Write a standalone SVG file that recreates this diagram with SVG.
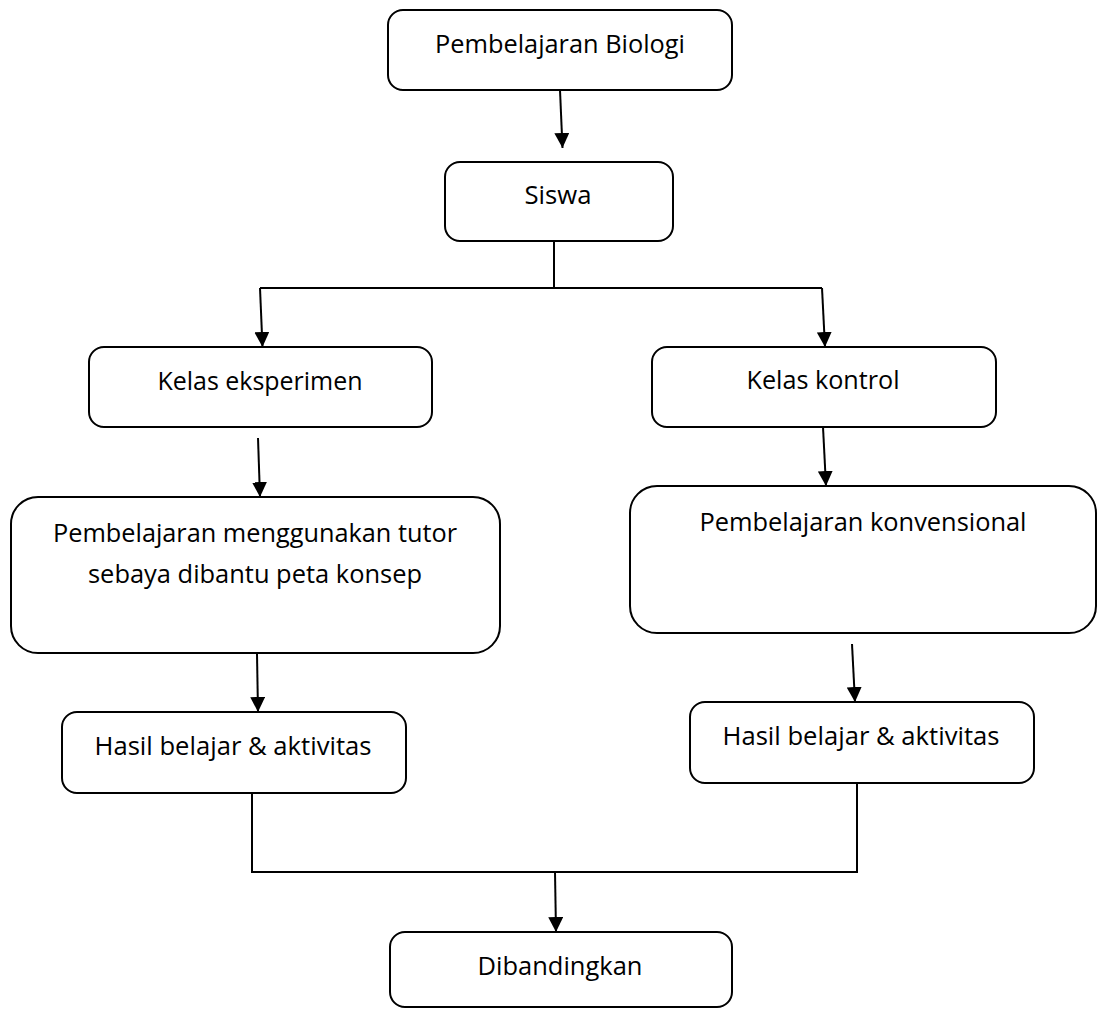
<svg xmlns="http://www.w3.org/2000/svg" width="1097" height="1010" viewBox="0 0 1097 1010">
<style>
.box{fill:#fff;stroke:#000;stroke-width:2}
.t{font-family:"Open Sans","Noto Sans","Liberation Sans",sans-serif;font-size:25px;fill:#000;text-anchor:middle}
.c{fill:none;stroke:#000;stroke-width:2}
</style>
<defs>
<marker id="ah" viewBox="0 0 10 10" refX="10" refY="5" markerWidth="15" markerHeight="15" markerUnits="userSpaceOnUse" orient="auto">
<path d="M0,0 L10,5 L0,10 z" fill="#000"/>
</marker>
</defs>
<rect width="1097" height="1010" fill="#fff"/>
<g id="connectors">
<line class="c" x1="560" y1="90" x2="562.5" y2="148" marker-end="url(#ah)"/>
<polyline class="c" points="554,241 554,288"/>
<polyline class="c" points="260,288 822,288"/>
<line class="c" x1="260" y1="288" x2="262.5" y2="347" marker-end="url(#ah)"/>
<line class="c" x1="822" y1="288" x2="825" y2="347" marker-end="url(#ah)"/>
<line class="c" x1="258" y1="438" x2="260" y2="497" marker-end="url(#ah)"/>
<line class="c" x1="823" y1="427" x2="826" y2="486" marker-end="url(#ah)"/>
<line class="c" x1="257" y1="654" x2="258" y2="712" marker-end="url(#ah)"/>
<line class="c" x1="852" y1="644" x2="855" y2="702" marker-end="url(#ah)"/>
<polyline class="c" points="252,793 252,872 857,872 857,783"/>
<line class="c" x1="555" y1="872" x2="556" y2="932" marker-end="url(#ah)"/>
</g>
<g id="n1"><rect class="box" x="388" y="10" width="344" height="80" rx="15"/><text class="t" x="560" y="53" textLength="250" lengthAdjust="spacingAndGlyphs">Pembelajaran Biologi</text></g>
<g id="n2"><rect class="box" x="445" y="162" width="228" height="79" rx="15"/><text class="t" x="558" y="204" textLength="67" lengthAdjust="spacingAndGlyphs">Siswa</text></g>
<g id="n3"><rect class="box" x="89" y="347" width="343" height="80" rx="15"/><text class="t" x="260" y="390" textLength="205" lengthAdjust="spacingAndGlyphs">Kelas eksperimen</text></g>
<g id="n4"><rect class="box" x="652" y="347" width="344" height="80" rx="15"/><text class="t" x="823" y="389" textLength="153" lengthAdjust="spacingAndGlyphs">Kelas kontrol</text></g>
<g id="n5"><rect class="box" x="11" y="497" width="489" height="156" rx="27"/><text class="t" x="255" y="542" textLength="404" lengthAdjust="spacingAndGlyphs">Pembelajaran menggunakan tutor</text><text class="t" x="255" y="583" textLength="334" lengthAdjust="spacingAndGlyphs">sebaya dibantu peta konsep</text></g>
<g id="n6"><rect class="box" x="630" y="486" width="466" height="147" rx="27"/><text class="t" x="863" y="531" textLength="327" lengthAdjust="spacingAndGlyphs">Pembelajaran konvensional</text></g>
<g id="n7"><rect class="box" x="62" y="712" width="344" height="81" rx="15"/><text class="t" x="233" y="755" textLength="277" lengthAdjust="spacingAndGlyphs">Hasil belajar &amp; aktivitas</text></g>
<g id="n8"><rect class="box" x="690" y="702" width="344" height="81" rx="15"/><text class="t" x="861" y="745" textLength="277" lengthAdjust="spacingAndGlyphs">Hasil belajar &amp; aktivitas</text></g>
<g id="n9"><rect class="box" x="390" y="932" width="342" height="75" rx="15"/><text class="t" x="560" y="975" textLength="165" lengthAdjust="spacingAndGlyphs">Dibandingkan</text></g>
</svg>
